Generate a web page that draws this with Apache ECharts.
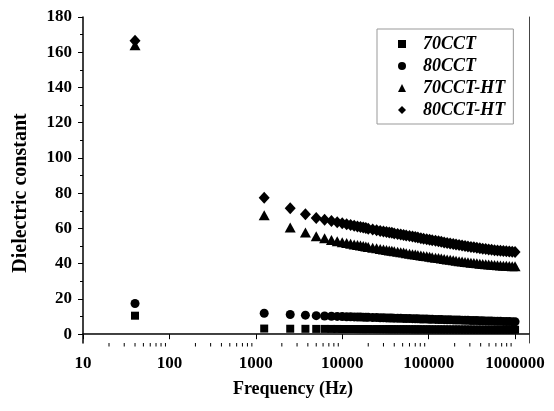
<!DOCTYPE html>
<html>
<head>
<meta charset="utf-8">
<script src="https://cdn.jsdelivr.net/npm/echarts@6.0.0/dist/echarts.min.js"></script>
<style>
  html, body { margin: 0; padding: 0; background: #fff; }
  #chart { width: 554px; height: 411px; }
</style>
</head>
<body>
<div id="chart"></div>
<script>
  // frequencies (Hz) of the plotted points, shared by all four samples
  var frequency = [40, 1250, 2500, 3750, 5000, 6250, 7500, 8750, 10000, 11250, 12500, 13750,
    15000, 16250, 17500, 18750, 20000, 22500, 25000, 27500, 30000, 32500, 35000, 37500,
    40000, 43750, 47500, 51250, 55000, 60000, 65000, 70000, 75000, 81250, 87500, 95000,
    102500, 110000, 120000, 130000, 140000, 151250, 163750, 177500, 192500, 207500, 225000,
    243750, 263750, 285000, 308750, 333750, 361250, 391250, 422500, 457500, 495000, 535000,
    578750, 626250, 677500, 732500, 792500, 857500, 927500, 1000000];

  var cct70 = [10.5, 3.2, 3.1, 3.05,
    3.0, 3.0, 2.98, 2.97, 2.96, 2.95, 2.94, 2.93, 2.92, 2.91,
    2.9, 2.9, 2.89, 2.88, 2.87, 2.86, 2.85, 2.85, 2.84, 2.83,
    2.82, 2.81, 2.8, 2.8, 2.79, 2.78, 2.77, 2.76, 2.75, 2.75,
    2.74, 2.73, 2.72, 2.71, 2.7, 2.7, 2.69, 2.68, 2.67, 2.66,
    2.65, 2.65, 2.64, 2.63, 2.62, 2.62, 2.61, 2.6, 2.6, 2.59,
    2.58, 2.58, 2.57, 2.56, 2.56, 2.55, 2.55, 2.54, 2.54, 2.53,
    2.53, 2.52];

  var cct80 = [17.4, 11.9, 11.2, 10.8,
    10.5, 10.3, 10.2, 10.1, 10.0, 9.9, 9.85, 9.8, 9.75, 9.7,
    9.65, 9.6, 9.55, 9.5, 9.4, 9.35, 9.3, 9.25, 9.2, 9.15,
    9.1, 9.05, 9.0, 8.95, 8.9, 8.85, 8.8, 8.75, 8.7, 8.65,
    8.6, 8.55, 8.5, 8.45, 8.4, 8.35, 8.3, 8.25, 8.2, 8.15,
    8.1, 8.05, 8.0, 7.95, 7.9, 7.85, 7.8, 7.75, 7.7, 7.65,
    7.6, 7.55, 7.5, 7.45, 7.4, 7.35, 7.3, 7.25, 7.2, 7.15,
    7.1, 7.05];

  var cct70ht = [164.0, 67.5, 60.6, 57.7,
    55.6, 54.4, 53.5, 52.8, 52.2, 51.7, 51.3, 50.9, 50.6, 50.3,
    50.0, 49.8, 49.5, 49.1, 48.7, 48.4, 48.1, 47.8, 47.5, 47.3,
    47.1, 46.8, 46.5, 46.3, 46.0, 45.7, 45.4, 45.2, 44.9, 44.7,
    44.4, 44.2, 43.9, 43.7, 43.4, 43.2, 42.9, 42.7, 42.4, 42.2,
    41.9, 41.7, 41.4, 41.2, 41.0, 40.8, 40.6, 40.4, 40.2, 40.0,
    39.8, 39.7, 39.5, 39.4, 39.2, 39.1, 39.0, 38.9, 38.8, 38.7,
    38.6, 38.5];

  var cct80ht = [166.5, 77.4, 71.4, 68.0,
    66.0, 65.0, 64.2, 63.5, 62.9, 62.4, 61.9, 61.5, 61.1, 60.8,
    60.5, 60.2, 59.9, 59.4, 59.0, 58.6, 58.3, 58.0, 57.7, 57.5,
    57.2, 56.9, 56.6, 56.3, 56.0, 55.7, 55.4, 55.1, 54.8, 54.5,
    54.2, 53.9, 53.6, 53.3, 53.0, 52.7, 52.4, 52.1, 51.8, 51.5,
    51.2, 50.9, 50.6, 50.3, 50.0, 49.8, 49.5, 49.3, 49.0, 48.8,
    48.5, 48.3, 48.1, 47.9, 47.7, 47.5, 47.4, 47.2, 47.1, 46.9,
    46.8, 46.7];

  var seriesNames = ['70CCT', '80CCT', '70CCT-HT', '80CCT-HT'];
  var yMajorTicks = [0, 20, 40, 60, 80, 100, 120, 140, 160, 180];
  var yMinorTicks = [10, 30, 50, 70, 90, 110, 130, 150, 170];
  var xMinorTicks = [20, 30, 40, 50, 60, 70, 80, 90,
    200, 300, 400, 500, 600, 700, 800, 900,
    2000, 3000, 4000, 5000, 6000, 7000, 8000, 9000,
    20000, 30000, 40000, 50000, 60000, 70000, 80000, 90000,
    200000, 300000, 400000, 500000, 600000, 700000, 800000, 900000];

  function pairs(vals) {
    var out = [];
    for (var i = 0; i < frequency.length && i < vals.length; i++) {
      out.push([frequency[i], vals[i]]);
    }
    return out;
  }

  var serif = 'Liberation Serif';
  var chart = echarts.init(document.getElementById('chart'));

  var xMin = 10, xMax = 1450000, yMin = -5, yMax = 180;
  var markStyle = { color: '#000', opacity: 1 };

  // short minor ticks under the log axis, placed through the axis scale
  function minorTickItem(params, api) {
    var p = api.coord([api.value(0), yMin]);
    return {
      type: 'line',
      shape: { x1: p[0], y1: p[1], x2: p[0], y2: p[1] + 3.5 },
      style: { stroke: '#000', lineWidth: 1 },
      silent: true
    };
  }

  chart.setOption({
    animation: false,
    backgroundColor: '#fff',
    grid: { left: 83, right: 25, top: 17, bottom: 68, containLabel: false },
    legend: {
      orient: 'vertical',
      left: 377,
      top: 29,
      padding: [6, 8, 5, 21],
      borderColor: '#999',
      borderWidth: 1,
      itemWidth: 8,
      itemHeight: 8,
      itemGap: 4,
      textStyle: { fontFamily: serif, fontStyle: 'italic', fontWeight: 'bold', fontSize: 18, color: '#000', lineHeight: 18, padding: [0, 0, 0, 12] },
      data: seriesNames
    },
    xAxis: [
      {
        type: 'log', position: 'bottom', min: xMin, max: xMax,
        name: 'Frequency (Hz)', nameLocation: 'middle', nameGap: 37,
        nameTextStyle: { fontFamily: serif, fontWeight: 'bold', fontSize: 18, color: '#000', padding: [0, 26, 0, 0] },
        axisLine: { lineStyle: { color: '#000', width: 1.5 } },
        axisTick: { show: true, inside: false, length: 5, lineStyle: { color: '#000', width: 1 } },
        axisLabel: {
          fontFamily: serif, fontWeight: 'bold', fontSize: 17, color: '#000', margin: 12, showMaxLabel: false,
          formatter: function (v) { return String(Math.round(v)); }
        },
        splitLine: { show: false }
      },
      {
        type: 'log', position: 'top', min: xMin, max: xMax,
        axisLine: { lineStyle: { color: '#444', width: 1 } },
        axisTick: { show: false }, axisLabel: { show: false }, splitLine: { show: false }
      }
    ],
    yAxis: [
      {
        type: 'value', position: 'left', min: yMin, max: yMax,
        name: 'Dielectric constant', nameLocation: 'middle', nameGap: 52,
        nameTextStyle: { fontFamily: serif, fontWeight: 'bold', fontSize: 20, color: '#000', padding: [0, 26, 0, 0] },
        axisLine: { show: true, lineStyle: { color: '#000', width: 1.5 } },
        axisTick: { show: true, length: 5, customValues: yMajorTicks, lineStyle: { color: '#000', width: 1 } },
        axisLabel: { fontFamily: serif, fontWeight: 'bold', fontSize: 17, color: '#000', margin: 11, customValues: yMajorTicks },
        splitLine: { show: false }
      },
      {
        type: 'value', position: 'left', min: yMin, max: yMax,
        axisLine: { show: false },
        axisTick: { show: true, length: 3, customValues: yMinorTicks, lineStyle: { color: '#000', width: 1 } },
        axisLabel: { show: false },
        splitLine: { show: false }
      },
      {
        type: 'value', position: 'right', min: yMin, max: yMax,
        axisLine: { show: true, lineStyle: { color: '#444', width: 1 } },
        axisTick: { show: false }, axisLabel: { show: false }, splitLine: { show: false }
      }
    ],
    series: [
      { name: seriesNames[0], type: 'scatter', symbol: 'rect', symbolSize: 8, itemStyle: markStyle, data: pairs(cct70) },
      { name: seriesNames[1], type: 'scatter', symbol: 'circle', symbolSize: 9, itemStyle: markStyle, data: pairs(cct80) },
      { name: seriesNames[2], type: 'scatter', symbol: 'triangle', symbolSize: [11, 10], itemStyle: markStyle, data: pairs(cct70ht) },
      { name: seriesNames[3], type: 'scatter', symbol: 'diamond', symbolSize: [11, 12], itemStyle: markStyle, data: pairs(cct80ht) },
      {
        type: 'custom', name: 'minorTicks', clip: false, silent: true,
        renderItem: minorTickItem,
        data: xMinorTicks.map(function (v) { return [v, yMin]; })
      }
    ]
  });
</script>
</body>
</html>
